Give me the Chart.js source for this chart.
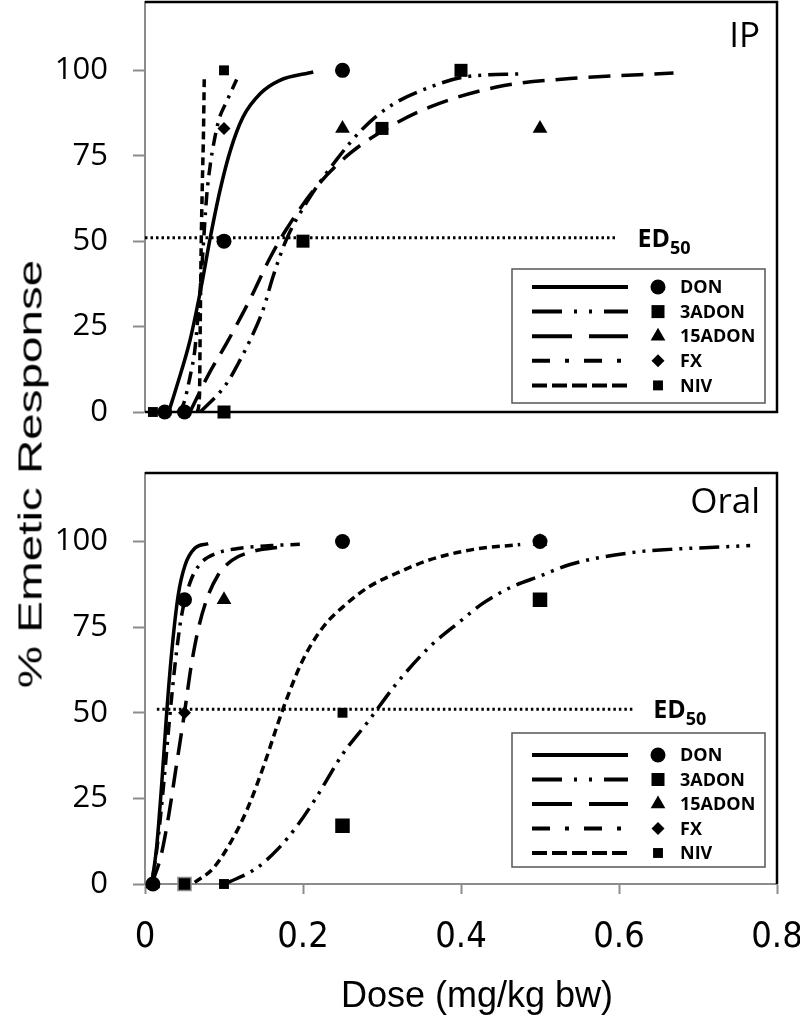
<!DOCTYPE html>
<html>
<head>
<meta charset="utf-8">
<script src="https://cdn.jsdelivr.net/npm/chart.js@4.4.1/dist/chart.umd.min.js"></script>
<style>
    body { margin: 0; background: #fff; width: 800px; height: 1023px; position: relative; overflow: hidden; }
    canvas { position: absolute; left: 0; }
    #ip { top: 0; }
    #oral { top: 460px; }
    .axis-title { position: absolute; white-space: nowrap; color: #000; font-family: "Liberation Sans", Arial, sans-serif; }
    #y-title { left: 30px; top: 474px; font-size: 34px; transform: translate(-50%, -50%) rotate(-90deg) scaleX(1.4); }
    #x-title { left: 477px; top: 995px; font-size: 36px; transform: translate(-50%, -50%); }
</style>
</head>
<body>
<canvas id="ip" width="800" height="440"></canvas>
<canvas id="oral" width="800" height="563"></canvas>
<div class="axis-title" id="y-title">% Emetic Response</div>
<div class="axis-title" id="x-title">Dose (mg/kg bw)</div>
<script>
// axes
var doseTicks = [0, 0.2, 0.4, 0.6, 0.8];
var doseTickLabels = ['0', '0.2', '0.4', '0.6', '0.8'];
var responseTicks = [0, 25, 50, 75, 100];
var toxinNames = ['DON', '3ADON', '15ADON', 'FX', 'NIV'];
var ed50Level = 51;

// IP panel - observed responses
var ipDonDose = [0.025, 0.05, 0.1, 0.25];
var ipDonResp = [0, 0, 50, 100];
var ip3adonDose = [0.1, 0.2, 0.3, 0.4];
var ip3adonResp = [0, 50, 83, 100];
var ip15adonDose = [0.25, 0.5];
var ip15adonResp = [83, 83];
var ipFxDose = [0.1];
var ipFxResp = [83];
var ipNivDose = [0.01, 0.1];
var ipNivResp = [0, 100];

// IP panel - fitted curves
var ipDonFitDose = [0.03, 0.04, 0.057, 0.072, 0.082, 0.095, 0.108, 0.124, 0.146, 0.17, 0.213];
var ipDonFitResp = [0, 7.4, 21, 37.6, 50.3, 64.9, 76.5, 86.3, 93.2, 97, 99.5];
var ip3adonFitDose = [0.07, 0.097, 0.108, 0.118, 0.133, 0.15, 0.162, 0.179, 0.205, 0.243, 0.276, 0.312, 0.361, 0.403, 0.481];
var ip3adonFitResp = [0, 6.4, 10, 14.2, 21, 30.3, 39.6, 50.5, 61.5, 74, 83, 89.8, 95.1, 98, 99];
var ip15adonFitDose = [0.057, 0.08, 0.103, 0.133, 0.158, 0.179, 0.217, 0.259, 0.306, 0.361, 0.445, 0.538, 0.669];
var ip15adonFitResp = [0, 10.8, 20, 33, 45, 53.5, 65.9, 75.6, 83, 89.3, 95.1, 97.6, 99.2];
var ipFxFitDose = [0.042, 0.049, 0.057, 0.063, 0.067, 0.072, 0.078, 0.083, 0.087, 0.094, 0.103, 0.116];
var ipFxFitResp = [0, 2.5, 10.3, 18, 27.9, 42.5, 63, 73, 78.6, 85.9, 90.7, 97.3];
var ipNivFitDose = [0.066, 0.069, 0.0698, 0.071, 0.0726, 0.074, 0.075];
var ipNivFitResp = [0, 5, 23, 47, 67, 81.5, 97.6];
var ipEd50Dose = [0, 0.598];

// Oral panel - observed responses
var oralDonDose = [0.01, 0.05, 0.25, 0.5];
var oralDonResp = [0, 83, 100, 100];
var oral3adonDose = [0.05, 0.25, 0.5];
var oral3adonResp = [0, 17, 83];
var oral15adonDose = [0.01, 0.1, 0.5];
var oral15adonResp = [0, 83, 100];
var oralFxDose = [0.05];
var oralFxResp = [50];
var oralNivDose = [0.1, 0.25];
var oralNivResp = [0, 50];

// Oral panel - fitted curves
var oralDonFitDose = [0.0085, 0.0148, 0.021, 0.0275, 0.0338, 0.042, 0.0506, 0.063, 0.08];
var oralDonFitResp = [0, 11, 28.7, 50.2, 67.7, 84.3, 93, 98, 99.4];
var oral3adonFitDose = [0.103, 0.141, 0.169, 0.192, 0.215, 0.251, 0.281, 0.319, 0.361, 0.399, 0.428, 0.462, 0.5, 0.538, 0.614, 0.665, 0.728, 0.766];
var oral3adonFitResp = [0.2, 4.6, 10.4, 16.8, 24.6, 38.2, 47, 58.7, 69.4, 76.7, 82, 86.5, 89.9, 93.3, 96.7, 97.7, 98.4, 98.8];
var oral15adonFitDose = [0.0085, 0.02, 0.03, 0.04, 0.05, 0.058, 0.067, 0.078, 0.092, 0.11, 0.135, 0.175];
var oral15adonFitResp = [0, 8, 20, 35, 50, 63, 74, 83, 90, 94.5, 97, 98.5];
var oralFxFitDose = [0.0085, 0.016, 0.024, 0.031, 0.038, 0.046, 0.057, 0.07, 0.09, 0.12, 0.16, 0.196];
var oralFxFitResp = [0, 12, 30, 48, 64, 78, 88, 93.5, 96.5, 98, 98.8, 99.2];
var oralNivFitDose = [0.063, 0.086, 0.108, 0.129, 0.15, 0.167, 0.179, 0.2, 0.226, 0.251, 0.285, 0.319, 0.361, 0.416, 0.475];
var oralNivFitResp = [0.5, 4.5, 12, 21.6, 34.3, 46, 53.8, 65.5, 75.2, 81, 87, 90.8, 94.7, 97.7, 99.1];
var oralEd50Dose = [0.015, 0.618];

// line / marker look of each toxin
var STYLE = {
    'DON':    { dash: [],                  legendDash: [],                     marker: 'circle',   radius: 7.5 },
    '3ADON':  { dash: [20, 7, 3, 7, 3, 7], legendDash: [30, 12, 3, 12, 3, 12], marker: 'rect',     radius: 9.2 },
    '15ADON': { dash: [22, 11],            legendDash: [40, 17],               marker: 'triangle', radius: 8.5 },
    'FX':     { dash: [13, 7, 3, 7],       legendDash: [18, 15, 4, 15],        marker: 'rectRot',  radius: 6.5 },
    'NIV':    { dash: [8, 5],              legendDash: [15, 5],                marker: 'rect',     radius: 7 }
};

var GREY = '#8c8c8c';

function points(xs, ys) {
    return xs.map(function (x, i) { return { x: x, y: ys[i] }; });
}

function curve(name, xs, ys) {
    return {
        type: 'line',
        data: points(xs, ys),
        borderColor: '#000',
        borderWidth: 3.5,
        borderDash: STYLE[name].dash,
        borderCapStyle: 'butt',
        pointRadius: 0,
        cubicInterpolationMode: 'monotone',
        fill: false,
        order: 2
    };
}

function markers(name, xs, ys, border) {
    return {
        type: 'scatter',
        data: points(xs, ys),
        pointStyle: STYLE[name].marker,
        pointRadius: STYLE[name].radius,
        pointBackgroundColor: '#000',
        pointBorderColor: border || '#000',
        pointBorderWidth: border ? 1.5 : 0,
        clip: false,
        order: 0
    };
}

function ed50Line(xs) {
    return {
        type: 'line',
        data: points(xs, [ed50Level, ed50Level]),
        borderColor: '#000',
        borderWidth: 3,
        borderDash: [2.5, 3],
        borderCapStyle: 'butt',
        pointRadius: 0,
        order: 1
    };
}

//box round the plot area plus the IP / Oral name
var panelFrame = {
    id: 'panelFrame',
    beforeDatasetsDraw: function (chart, args, o) {
        var a = chart.chartArea, ctx = chart.ctx;
        ctx.save();
        ctx.strokeStyle = '#000';
        ctx.lineWidth = 2.5;
        ctx.beginPath();
        ctx.moveTo(a.left, a.top);
        ctx.lineTo(a.right, a.top);
        ctx.lineTo(a.right, a.bottom);
        if (o.closeBottom) {
            ctx.lineTo(a.left, a.bottom);
        }
        ctx.stroke();
        ctx.fillStyle = '#000';
        ctx.font = '35px "Open Sans"';
        ctx.textAlign = 'right';
        ctx.textBaseline = 'middle';
        ctx.fillText(o.label, a.right - 17, a.top + o.labelDy);
        ctx.restore();
    }
};

var ed50Label = {
    id: 'ed50Label',
    afterDraw: function (chart, args, o) {
        var ctx = chart.ctx,
            x = chart.scales.x.getPixelForValue(o.endDose) + 20,
            y = chart.scales.y.getPixelForValue(ed50Level) + 2,
            w;
        ctx.save();
        ctx.fillStyle = '#000';
        ctx.textAlign = 'left';
        ctx.textBaseline = 'middle';
        ctx.font = 'bold 25px "Open Sans"';
        ctx.fillText('ED', x, y);
        w = ctx.measureText('ED').width;
        ctx.font = 'bold 18px "Open Sans"';
        ctx.fillText('50', x + w, y + 9);
        ctx.restore();
    }
};

var doseLegend = {
    id: 'doseLegend',
    afterDraw: function (chart, args, o) {
        var ctx = chart.ctx;
        ctx.save();
        ctx.strokeStyle = '#555';
        ctx.lineWidth = 1.5;
        ctx.strokeRect(o.left, o.top, o.width, o.height);
        toxinNames.forEach(function (name, i) {
            var s = STYLE[name], y = o.top + o.rowTop + i * o.rowGap;
            ctx.beginPath();
            ctx.setLineDash(s.legendDash);
            ctx.lineWidth = 4;
            ctx.lineCap = 'butt';
            ctx.strokeStyle = '#000';
            ctx.moveTo(o.left + 20, y);
            ctx.lineTo(o.left + 116, y);
            ctx.stroke();
            ctx.setLineDash([]);
            ctx.fillStyle = '#000';
            Chart.helpers.drawPoint(ctx, { pointStyle: s.marker, radius: s.radius, rotation: 0, borderWidth: 0 }, o.left + 146, y);
            ctx.font = 'bold 18px "Open Sans"';
            ctx.textAlign = 'left';
            ctx.textBaseline = 'middle';
            ctx.fillText(name, o.left + 168, y + 1);
        });
        ctx.restore();
    }
};

function makePanel(id, p) {
    var datasets = [
        curve('DON', p.fit.DON[0], p.fit.DON[1]),
        curve('3ADON', p.fit['3ADON'][0], p.fit['3ADON'][1]),
        curve('15ADON', p.fit['15ADON'][0], p.fit['15ADON'][1]),
        curve('FX', p.fit.FX[0], p.fit.FX[1]),
        curve('NIV', p.fit.NIV[0], p.fit.NIV[1]),
        ed50Line(p.ed50),
        markers('DON', p.obs.DON[0], p.obs.DON[1]),
        markers('3ADON', p.obs['3ADON'][0], p.obs['3ADON'][1], p.squareBorder),
        markers('15ADON', p.obs['15ADON'][0], p.obs['15ADON'][1]),
        markers('FX', p.obs.FX[0], p.obs.FX[1]),
        markers('NIV', p.obs.NIV[0], p.obs.NIV[1])
    ];

    return new Chart(document.getElementById(id), {
        type: 'scatter',
        data: { datasets: datasets },
        plugins: [panelFrame, ed50Label, doseLegend],
        options: {
            responsive: false,
            animation: false,
            layout: { padding: p.padding, autoPadding: false },
            plugins: {
                legend: { display: false },
                tooltip: { enabled: false },
                panelFrame: { label: p.label, labelDy: p.labelDy, closeBottom: !p.showDose },
                ed50Label: { endDose: p.ed50[1] },
                doseLegend: p.legend
            },
            scales: {
                x: {
                    type: 'linear',
                    min: 0,
                    max: 0.8,
                    display: p.showDose,
                    afterBuildTicks: function (s) {
                        s.ticks = doseTicks.map(function (v) { return { value: v }; });
                    },
                    afterFit: function (s) {
                        s.height = p.showDose ? 139 : 0;
                        s.paddingLeft = 0;
                        s.paddingRight = 0;
                    },
                    ticks: {
                        color: '#000',
                        padding: 22,
                        maxRotation: 0,
                        font: { family: '"Liberation Sans Narrow", "DejaVu Sans Condensed", "Liberation Sans"', size: 36 },
                        callback: function (v, i) { return doseTickLabels[i]; }
                    },
                    grid: { drawOnChartArea: false, tickLength: 10, tickColor: GREY, tickWidth: 2 },
                    border: { color: GREY, width: 2 }
                },
                y: {
                    min: 0,
                    max: 120,
                    afterBuildTicks: function (s) {
                        s.ticks = responseTicks.map(function (v) { return { value: v }; });
                    },
                    afterFit: function (s) {
                        s.width = 145;
                        s.paddingTop = 0;
                        s.paddingBottom = 0;
                    },
                    ticks: {
                        color: '#000',
                        padding: 25,
                        crossAlign: 'near',
                        font: { family: '"Open Sans"', size: 31 },
                        callback: function (v) { return String(v); }
                    },
                    grid: { drawOnChartArea: false, tickLength: 12, tickColor: GREY, tickWidth: 2 },
                    border: { color: GREY, width: 2 }
                }
            }
        }
    });
}

makePanel('ip', {
    label: 'IP',
    labelDy: 35,
    showDose: false,
    padding: { top: 2, right: 23, bottom: 28, left: 0 },
    ed50: ipEd50Dose,
    legend: { left: 512, top: 269, width: 253, height: 134, rowTop: 18, rowGap: 24.6 },
    obs: {
        'DON': [ipDonDose, ipDonResp],
        '3ADON': [ip3adonDose, ip3adonResp],
        '15ADON': [ip15adonDose, ip15adonResp],
        'FX': [ipFxDose, ipFxResp],
        'NIV': [ipNivDose, ipNivResp]
    },
    fit: {
        'DON': [ipDonFitDose, ipDonFitResp],
        '3ADON': [ip3adonFitDose, ip3adonFitResp],
        '15ADON': [ip15adonFitDose, ip15adonFitResp],
        'FX': [ipFxFitDose, ipFxFitResp],
        'NIV': [ipNivFitDose, ipNivFitResp]
    }
});

makePanel('oral', {
    label: 'Oral',
    labelDy: 30,
    showDose: true,
    padding: { top: 13, right: 23, bottom: 0, left: 0 },
    ed50: oralEd50Dose,
    squareBorder: [GREY, '#000', '#000'],
    legend: { left: 512, top: 273, width: 253, height: 134, rowTop: 22, rowGap: 24.5 },
    obs: {
        'DON': [oralDonDose, oralDonResp],
        '3ADON': [oral3adonDose, oral3adonResp],
        '15ADON': [oral15adonDose, oral15adonResp],
        'FX': [oralFxDose, oralFxResp],
        'NIV': [oralNivDose, oralNivResp]
    },
    fit: {
        'DON': [oralDonFitDose, oralDonFitResp],
        '3ADON': [oral3adonFitDose, oral3adonFitResp],
        '15ADON': [oral15adonFitDose, oral15adonFitResp],
        'FX': [oralFxFitDose, oralFxFitResp],
        'NIV': [oralNivFitDose, oralNivFitResp]
    }
});
</script>
</body>
</html>
